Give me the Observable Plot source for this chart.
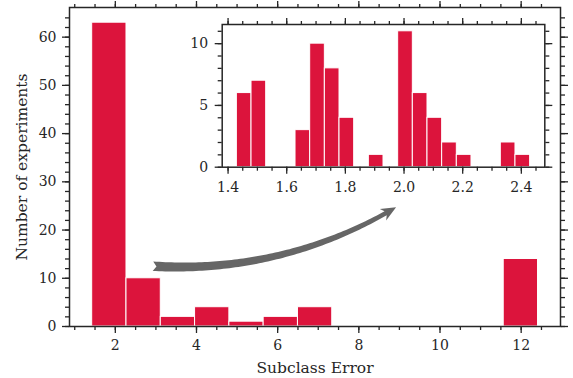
<!DOCTYPE html>
<html>
<head>
<meta charset="utf-8">
<script src="https://cdn.jsdelivr.net/npm/d3@7"></script>
<script src="https://cdn.jsdelivr.net/npm/@observablehq/plot@0.6"></script>
<style>
  html, body { margin: 0; padding: 0; background: white; }
  #chart { position: relative; width: 573px; height: 378px; overflow: hidden; }
  #chart svg { position: absolute; }
</style>
</head>
<body>
<div id="chart"></div>
<script>
// Histogram of subclass error over 100 experiments (13 bins)
const mainEdges = [1.43, 2.275, 3.12, 3.965, 4.81, 5.655, 6.5, 7.345, 8.19, 9.035, 9.88, 10.725, 11.57, 12.415];
const mainCounts = [63, 10, 2, 4, 1, 2, 4, 0, 0, 0, 0, 0, 14];
const mainXTicks = [2, 4, 6, 8, 10, 12];
const mainYTicks = [0, 10, 20, 30, 40, 50, 60];

// Zoomed histogram of the 1.43 – 2.43 range (bins of 0.05)
const insetEdges = [1.43, 1.48, 1.53, 1.58, 1.63, 1.68, 1.73, 1.78, 1.83, 1.88, 1.93,
                    1.98, 2.03, 2.08, 2.13, 2.18, 2.23, 2.28, 2.33, 2.38, 2.43];
const insetCounts = [6, 7, 0, 0, 3, 10, 8, 4, 0, 1, 0, 11, 6, 4, 2, 1, 0, 0, 2, 1];
const insetXTicks = [1.4, 1.6, 1.8, 2.0, 2.2, 2.4];
const insetYTicks = [0, 5, 10];

// Curved pointer from the low-error bars to the zoomed view (main-axis units)
const arrowFrom = [2.94, 12.4];
const arrowBend = [6.14, 10.8];
const arrowTo = [8.93, 24.6];

const barColor = "#dc143c";
const ink = "#262626";
const font = "DejaVu Serif";

const toBins = (edges, counts) => counts.map((c, i) => ({x1: edges[i], x2: edges[i + 1], count: c}));
const mainBins = toBins(mainEdges, mainCounts);
const insetBins = toBins(insetEdges, insetCounts);
const blank = () => "";

// Outward ticks on all four sides of a frame
function boxAxes({xMajor, xMinor, yMajor, yMinor, xFormat, yFormat, pad}) {
  const common = {stroke: ink, strokeWidth: 1.3, label: null};
  return [
    Plot.axisX(xMinor, {...common, anchor: "bottom", tickSize: 4, tickFormat: blank}),
    Plot.axisX(xMinor, {...common, anchor: "top", tickSize: 4, tickFormat: blank}),
    Plot.axisX(xMajor, {...common, anchor: "bottom", tickSize: 7, tickPadding: pad.x, tickFormat: xFormat, fill: ink, fontSize: 14}),
    Plot.axisX(xMajor, {...common, anchor: "top", tickSize: 7, tickFormat: blank}),
    Plot.axisY(yMinor, {...common, anchor: "left", tickSize: 4, tickFormat: blank}),
    Plot.axisY(yMinor, {...common, anchor: "right", tickSize: 4, tickFormat: blank}),
    Plot.axisY(yMajor, {...common, anchor: "left", tickSize: 7, tickPadding: pad.y, tickFormat: yFormat, fill: ink, fontSize: 14}),
    Plot.axisY(yMajor, {...common, anchor: "right", tickSize: 7, tickFormat: blank})
  ];
}

// Tapered curved arrow with a notched tail, drawn in pixel space from the scales
function curvedArrow(index, scales) {
  const P0 = [scales.x(arrowFrom[0]), scales.y(arrowFrom[1])];
  const C = [scales.x(arrowBend[0]), scales.y(arrowBend[1])];
  const P2 = [scales.x(arrowTo[0]), scales.y(arrowTo[1])];
  const at = t => [
    (1 - t) * (1 - t) * P0[0] + 2 * (1 - t) * t * C[0] + t * t * P2[0],
    (1 - t) * (1 - t) * P0[1] + 2 * (1 - t) * t * C[1] + t * t * P2[1]
  ];
  const tan = t => {
    const dx = 2 * (1 - t) * (C[0] - P0[0]) + 2 * t * (P2[0] - C[0]);
    const dy = 2 * (1 - t) * (C[1] - P0[1]) + 2 * t * (P2[1] - C[1]);
    const l = Math.hypot(dx, dy);
    return [dx / l, dy / l];
  };
  const headLen = 12, headHalf = 6.5, w0 = 9.5, w1 = 4.5;
  // find where the head begins
  let tHead = 1;
  for (let t = 1; t > 0; t -= 0.001) {
    const p = at(t);
    if (Math.hypot(p[0] - P2[0], p[1] - P2[1]) >= headLen) { tHead = t; break; }
  }
  const n = 80, left = [], right = [];
  for (let i = 0; i <= n; i++) {
    const t = tHead * i / n;
    const p = at(t), d = tan(t), nrm = [-d[1], d[0]];
    const w = (w0 + (w1 - w0) * i / n) / 2;
    left.push([p[0] + nrm[0] * w, p[1] + nrm[1] * w]);
    right.push([p[0] - nrm[0] * w, p[1] - nrm[1] * w]);
  }
  const b = at(tHead), d = tan(tHead), nrm = [-d[1], d[0]];
  const back = [b[0] - d[0] * 3, b[1] - d[1] * 3];
  const wingL = [back[0] + nrm[0] * headHalf, back[1] + nrm[1] * headHalf];
  const wingR = [back[0] - nrm[0] * headHalf, back[1] - nrm[1] * headHalf];
  const s = at(0), d0 = tan(0);
  const notch = [s[0] + d0[0] * 3.5, s[1] + d0[1] * 3.5];
  const pts = [...left, wingL, P2, wingR, ...right.reverse(), notch];
  return d3.create("svg:path")
    .attr("d", "M" + pts.map(p => p.join(",")).join("L") + "Z")
    .attr("fill", "#666666")
    .node();
}

const main = Plot.plot({
  width: 573, height: 378,
  marginLeft: 69, marginRight: 13, marginTop: 7, marginBottom: 52,
  style: {fontFamily: font, fontSize: "14px", color: ink, background: "white"},
  x: {domain: [0.871, 12.969], label: null},
  y: {domain: [0, 66.15], label: null},
  marks: [
    Plot.rect(mainBins, {x1: "x1", x2: "x2", y1: 0, y2: "count", fill: barColor, stroke: "white", strokeWidth: 1}),
    curvedArrow,
    ...boxAxes({
      xMajor: mainXTicks, xMinor: d3.range(1, 13, 0.5),
      yMajor: mainYTicks, yMinor: d3.range(0, 66, 2),
      xFormat: d => String(d), yFormat: d => String(d), pad: {x: 7, y: 6}
    }),
    Plot.frame({stroke: ink, strokeWidth: 1.5}),
    Plot.text(["Subclass Error"], {frameAnchor: "bottom", dy: 46, fill: ink, fontSize: 15.5}),
    Plot.text(["Number of experiments"], {frameAnchor: "left", textAnchor: "middle", dx: -47, rotate: -90, fill: ink, fontSize: 15.5})
  ]
});
main.style.left = "0px";
main.style.top = "0px";

const inset = Plot.plot({
  width: 380, height: 200,
  marginLeft: 41.7, marginRight: 15.7, marginTop: 24, marginBottom: 33.3,
  style: {fontFamily: font, fontSize: "14px", color: ink, background: "transparent"},
  x: {domain: [1.38, 2.48], label: null},
  y: {domain: [0, 11.55], label: null},
  marks: [
    Plot.frame({fill: "white", stroke: null}),
    Plot.rect(insetBins, {x1: "x1", x2: "x2", y1: 0, y2: "count", fill: barColor, stroke: "white", strokeWidth: 1}),
    ...boxAxes({
      xMajor: insetXTicks, xMinor: d3.range(1.4, 2.46, 0.05),
      yMajor: insetYTicks, yMinor: d3.range(0, 12, 1),
      xFormat: d3.format(".1f"), yFormat: d => String(d), pad: {x: 8, y: 7}
    }),
    Plot.frame({stroke: ink, strokeWidth: 1.5})
  ]
});
inset.style.left = "180px";
inset.style.top = "0px";

const chart = document.getElementById("chart");
chart.appendChild(main);
chart.appendChild(inset);
</script>
</body>
</html>
